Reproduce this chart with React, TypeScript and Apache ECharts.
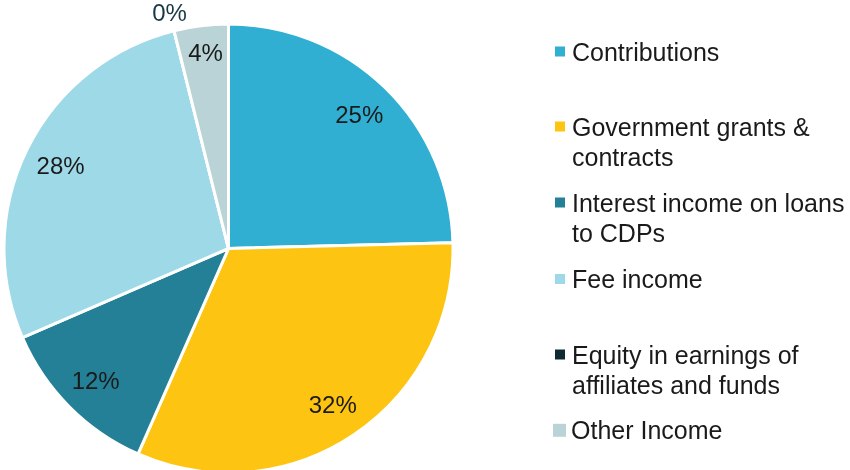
import React, { useEffect, useRef } from "react";
import * as echarts from "echarts";

const categories = [
  "Contributions",
  "Government grants & contracts",
  "Interest income on loans to CDPs",
  "Fee income",
  "Equity in earnings of affiliates and funds",
  "Other Income",
];
const values = [24.6, 32.0, 11.9, 27.6, 0, 3.9];
const colors = ["#30AFD2", "#FDC511", "#238096", "#9ED9E8", "#0E2A32", "#B9D3D6"];
const legendLines = [
  ["Contributions"],
  ["Government grants &", "contracts"],
  ["Interest income on loans", "to CDPs"],
  ["Fee income"],
  ["Equity in earnings of", "affiliates and funds"],
  ["Other Income"],
];
const legendIconCenters = [51.5, 126.5, 202.5, 279, 354.5, 430.3];

const FONT = "'Liberation Sans', Arial, sans-serif";
const TEXT = "#1a1a1a";

export default function App() {
  const ref = useRef<HTMLDivElement>(null);
  useEffect(() => {
    if (!ref.current) return;
    const chart = echarts.init(ref.current, undefined, { renderer: "svg" });
    const fmt = (p: any) => Math.round(p.percent) + "%";

    const legends = categories.map((name, i) => {
      const twoLine = legendLines[i].length > 1;
      const big = i === 5;
      const size = big ? 13 : 10;
      return {
        orient: "vertical",
        left: big ? 553 : 555,
        top: legendIconCenters[i] - (twoLine ? 45 : 15),
        padding: 0,
        itemWidth: size,
        itemHeight: size,
        icon: "rect",
        itemStyle: { borderWidth: 0 },
        data: [name],
        formatter: () =>
          twoLine ? "{pad|}\n{t|" + legendLines[i][0] + "}\n{t|" + legendLines[i][1] + "}" : "{t|" + legendLines[i][0] + "}",
        textStyle: {
          fontFamily: FONT,
          fontSize: 25,
          lineHeight: 30,
          color: TEXT,
          rich: {
            t: {
              fontFamily: FONT,
              fontSize: 25,
              lineHeight: 30,
              color: TEXT,
              padding: [0, 0, 0, big ? 0 : 2],
            },
            pad: { height: 30, lineHeight: 30, fontSize: 25 },
          },
        },
      };
    });

    chart.setOption({
      animation: false,
      legend: legends,
      series: [
        {
          type: "pie",
          center: [228.5, 248.5],
          radius: [0, 224.5],
          startAngle: 90,
          clockwise: true,
          label: { show: false },
          labelLine: { show: false },
          emphasis: { scale: false },
          itemStyle: { borderColor: "#ffffff", borderWidth: 3 },
          data: categories.map((name, i) => ({
            name,
            value: values[i],
            itemStyle: { color: colors[i] },
          })),
        },
        {
          type: "pie",
          center: [228.5, 248.5],
          radius: [144, 224.5],
          startAngle: 90,
          clockwise: true,
          silent: true,
          emphasis: { disabled: true },
          itemStyle: { color: "rgba(0,0,0,0)", borderWidth: 0 },
          labelLine: { show: false },
          label: {
            show: true,
            position: "inside",
            formatter: fmt,
            fontFamily: FONT,
            fontSize: 24,
            color: TEXT,
          },
          labelLayout: (p: any) => (p.dataIndex === 5 ? { dy: -10 } : {}),
          data: categories.map((name, i) => ({
            name,
            value: values[i],
            label: { show: i !== 4 },
          })),
        },
        {
          type: "pie",
          center: [228.5, 248.5],
          radius: [226, 254],
          startAngle: 90,
          clockwise: true,
          silent: true,
          emphasis: { disabled: true },
          itemStyle: { color: "rgba(0,0,0,0)", borderWidth: 0 },
          labelLine: { show: false },
          label: {
            show: false,
            position: "inside",
            formatter: fmt,
            fontFamily: FONT,
            fontSize: 24,
            lineHeight: 18,
            color: "#173844",
          },
          data: categories.map((name, i) => ({
            name,
            value: values[i],
            label: { show: i === 4 },
          })),
        },
      ],
    });
    return () => chart.dispose();
  }, []);
  return (
    <div
      ref={ref}
      style={{ position: "fixed", left: 0, top: 0, width: 850, height: 470 }}
    />
  );
}
